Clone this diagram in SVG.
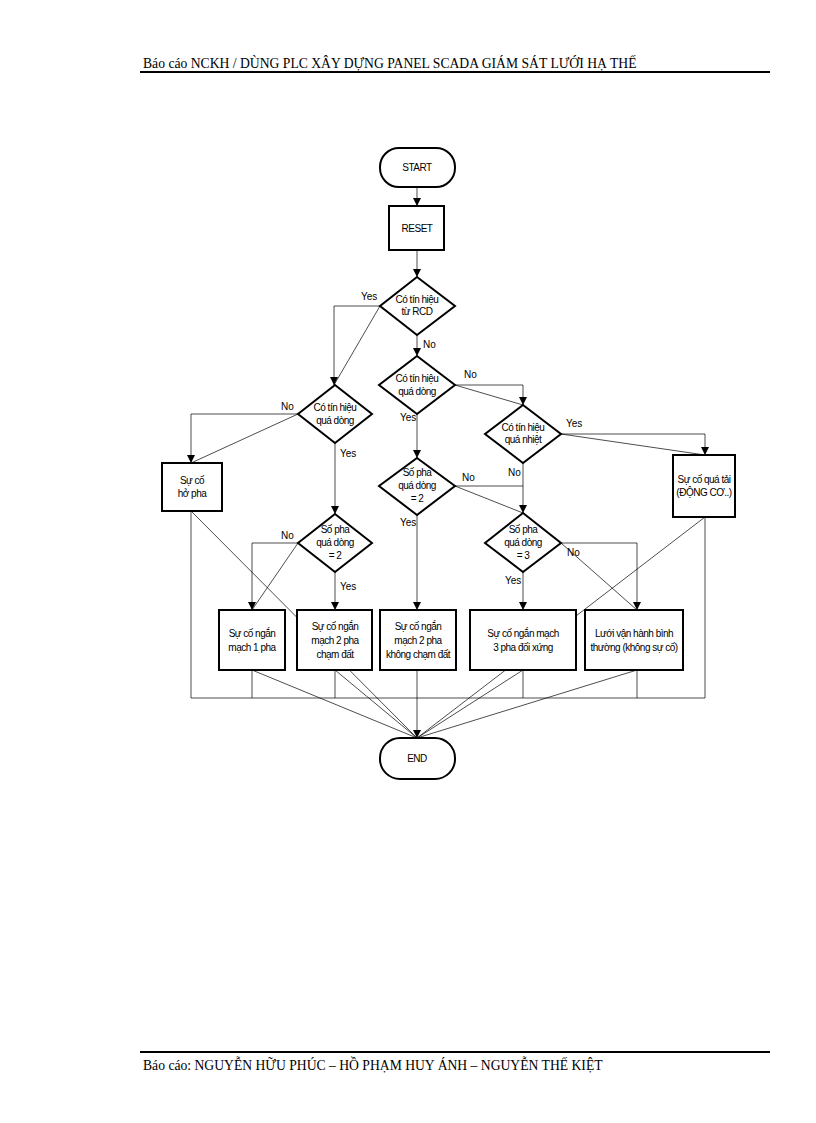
<svg xmlns="http://www.w3.org/2000/svg" width="816" height="1123" viewBox="0 0 816 1123">
<style>
.s{fill:#fff;stroke:#000;stroke-width:2}
.t{font-family:"Liberation Sans",Arial,sans-serif;font-size:10px;letter-spacing:-0.5px;text-anchor:middle;fill:#000}
.l{font-family:"Liberation Sans",Arial,sans-serif;font-size:10px;fill:#000}
.h{font-family:"Liberation Serif","Times New Roman",serif;font-size:13.65px;fill:#000}
#c path{fill:none;stroke:#000;stroke-width:0.7}
</style>
<defs><marker id="a" viewBox="0 0 10 10" refX="10" refY="5" markerWidth="8" markerHeight="8" markerUnits="userSpaceOnUse" orient="auto"><path d="M0,0 L10,5 L0,10 z" fill="#000"/></marker></defs>
<text class="h" x="143" y="68">Báo cáo NCKH / DÙNG PLC XÂY DỰNG PANEL SCADA GIÁM SÁT LƯỚI HẠ THẾ</text>
<path d="M140,72H770" stroke="#000" stroke-width="2"/>
<path d="M140,1052H770" stroke="#000" stroke-width="2"/>
<text class="h" x="143" y="1070">Báo cáo: NGUYỄN HỮU PHÚC – HỒ PHẠM HUY ÁNH – NGUYỄN THẾ KIỆT</text>
<g id="c">
<path d="M417,187V206" marker-end="url(#a)"/>
<path d="M417,250V277" marker-end="url(#a)"/>
<path d="M380,306H334V385" marker-end="url(#a)"/>
<path d="M380,306L334,385"/>
<path d="M417,335V356" marker-end="url(#a)"/>
<path d="M298,414H191V463" marker-end="url(#a)"/>
<path d="M298,414L191,463"/>
<path d="M335,443V514" marker-end="url(#a)"/>
<path d="M417,414V458" marker-end="url(#a)"/>
<path d="M417,515V610" marker-end="url(#a)"/>
<path d="M455,385H523V405" marker-end="url(#a)"/>
<path d="M455,385L523,405"/>
<path d="M561,434H705V455" marker-end="url(#a)"/>
<path d="M561,434L705,455"/>
<path d="M523,463V513" marker-end="url(#a)"/>
<path d="M455,486H523"/>
<path d="M455,486L523,513"/>
<path d="M561,543H637V610" marker-end="url(#a)"/>
<path d="M561,543L637,610"/>
<path d="M523,572V610" marker-end="url(#a)"/>
<path d="M298,543H252V610" marker-end="url(#a)"/>
<path d="M298,543L252,610"/>
<path d="M335,572V610" marker-end="url(#a)"/>
<path d="M191,511V698H705V517"/>
<path d="M252,670V698M335,670V698M523,670V698M637,670V698"/>
<path d="M417,670V738" marker-end="url(#a)"/>
<path d="M191,511L417,738M252,670L417,738M335,670L417,738M523,670L417,738M637,670L417,738M705,517L417,738"/>
</g>
<g class="l">
<text x="361" y="300">Yes</text><text x="423" y="348">No</text>
<text x="281" y="410">No</text><text x="340" y="457">Yes</text>
<text x="400" y="421">Yes</text><text x="464" y="378">No</text>
<text x="566" y="427">Yes</text><text x="508" y="476">No</text>
<text x="462" y="481">No</text><text x="400" y="526">Yes</text>
<text x="567" y="556">No</text><text x="505" y="584">Yes</text>
<text x="281" y="539">No</text><text x="340" y="590">Yes</text>
</g>
<g id="start"><rect class="s" x="380" y="148" width="75" height="39" rx="19"/><text class="t" x="417" y="171">START</text></g>
<g id="reset"><rect class="s" x="389" y="206" width="55" height="44"/><text class="t" x="417" y="232">RESET</text></g>
<g id="d1"><path class="s" d="M417,277L455,306L417,335L380,306z"/><text class="t" x="417" y="303">Có tín hiệu</text><text class="t" x="417" y="315">từ RCD</text></g>
<g id="d2"><path class="s" d="M335,385L372,414L335,443L298,414z"/><text class="t" x="335" y="411">Có tín hiệu</text><text class="t" x="335" y="424">quá dòng</text></g>
<g id="d3"><path class="s" d="M417,356L455,385L417,414L379,385z"/><text class="t" x="417" y="382">Có tín hiệu</text><text class="t" x="417" y="395">quá dòng</text></g>
<g id="d4"><path class="s" d="M417,458L455,486L417,515L379,486z"/><text class="t" x="417" y="476">Số pha</text><text class="t" x="417" y="489">quá dòng</text><text class="t" x="417" y="502">= 2</text></g>
<g id="d5"><path class="s" d="M523,405L561,434L523,463L485,434z"/><text class="t" x="523" y="431">Có tín hiệu</text><text class="t" x="523" y="443">quá nhiệt</text></g>
<g id="d6"><path class="s" d="M523,513L561,543L523,572L485,543z"/><text class="t" x="523" y="533">Số pha</text><text class="t" x="523" y="546">quá dòng</text><text class="t" x="523" y="559">= 3</text></g>
<g id="d7"><path class="s" d="M335,514L372,543L335,572L298,543z"/><text class="t" x="335" y="533">Số pha</text><text class="t" x="335" y="546">quá dòng</text><text class="t" x="335" y="559">= 2</text></g>
<g id="hopha"><rect class="s" x="162" y="463" width="60" height="48"/><text class="t" x="192" y="484">Sự cố</text><text class="t" x="192" y="497">hở pha</text></g>
<g id="quatai"><rect class="s" x="673" y="455" width="62" height="62"/><text class="t" x="704" y="483">Sự cố quá tải</text><text class="t" x="704" y="496">(ĐỘNG CƠ..)</text></g>
<g id="b1"><rect class="s" x="219" y="610" width="66" height="60"/><text class="t" x="252" y="637">Sự cố ngắn</text><text class="t" x="252" y="651">mạch 1 pha</text></g>
<g id="b2"><rect class="s" x="297" y="610" width="75" height="60"/><text class="t" x="335" y="630">Sự cố ngắn</text><text class="t" x="335" y="644">mạch 2 pha</text><text class="t" x="335" y="658">chạm đất</text></g>
<g id="b3"><rect class="s" x="380" y="610" width="76" height="60"/><text class="t" x="418" y="630">Sự cố ngắn</text><text class="t" x="418" y="644">mạch 2 pha</text><text class="t" x="418" y="658">không chạm đất</text></g>
<g id="b4"><rect class="s" x="470" y="610" width="106" height="60"/><text class="t" x="523" y="637">Sự cố ngắn mạch</text><text class="t" x="523" y="651">3 pha đối xứng</text></g>
<g id="b5"><rect class="s" x="585" y="610" width="98" height="60"/><text class="t" x="634" y="637">Lưới vận hành bình</text><text class="t" x="634" y="651">thường (không sự cố)</text></g>
<g id="end"><rect class="s" x="380" y="738" width="75" height="41" rx="20"/><text class="t" x="417" y="762">END</text></g>
</svg>
